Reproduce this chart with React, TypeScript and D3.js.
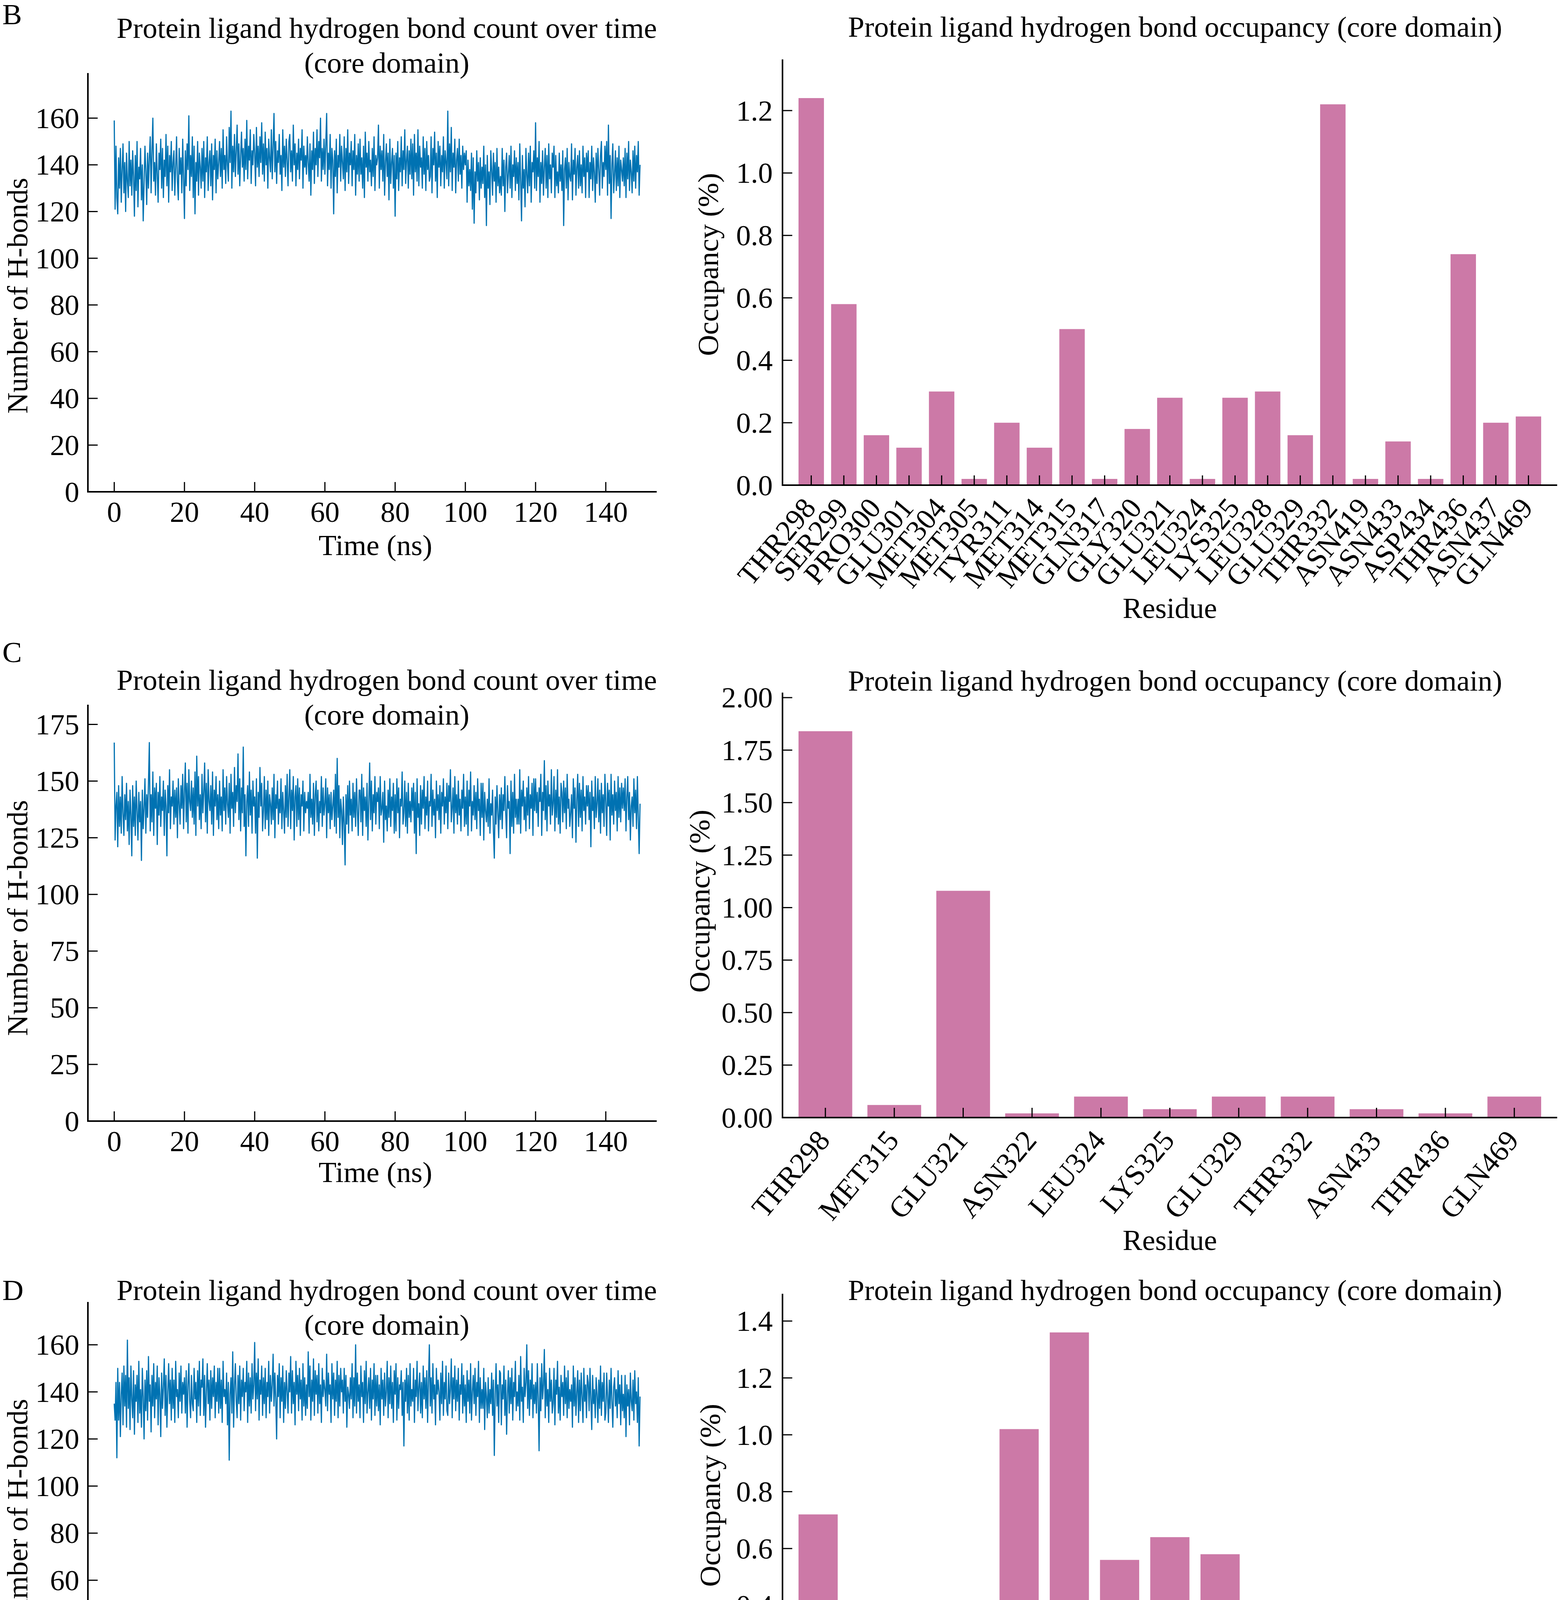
import * as d3 from "d3";

const FONT = "'Liberation Serif', 'Times New Roman', serif";
const LINE_COLOR = "#0072b2";
const BAR_COLOR = "#cc79a7";
const FS = 75;

// time axis: one frame every 0.25 ns
const TIME_STEP = 0.25;
const timeTicks = [0, 20, 40, 60, 80, 100, 120, 140];

// hydrogen bond counts (one row = 2.5 ns)
const hbondsB = [
  159, 121, 148, 126, 119, 143, 130, 147, 124, 138,
  149, 128, 141, 120, 145, 133, 126, 150, 131, 142,
  127, 146, 135, 118, 144, 129, 150, 122, 139, 134,
  147, 125, 140, 116, 132, 148, 137, 123, 145, 130,
  143, 152, 128, 146, 160, 133, 141, 127, 149, 136,
  124, 145, 138, 151, 130, 147, 126, 142, 135, 153,
  131, 148, 124, 144, 137, 150, 129, 141, 146, 127,
  139, 152, 133, 125, 147, 136, 143, 128, 151, 134,
  117, 146, 131, 149, 138, 161, 129, 144, 135, 152,
  126, 148, 119, 141, 133, 150, 127, 145, 139, 130,
  147, 133, 150, 126, 143, 137, 152, 129, 141, 146,
  131, 149, 125, 144, 138, 151, 128, 146, 134, 141,
  150, 135, 147, 130, 155, 138, 144, 132, 152, 140,
  133, 156, 141, 163, 130, 148, 137, 153, 135, 146,
  157, 136, 149, 131, 144, 154, 139, 147, 133, 151,
  138, 159, 134, 148, 142, 155, 132, 146, 140, 153,
  145, 131, 156, 139, 148, 135, 152, 141, 158, 136,
  149, 133, 154, 140, 147, 130, 151, 143, 137, 155,
  134, 148, 162, 137, 150, 132, 146, 141, 153, 136,
  144, 129, 155, 139, 148, 135, 151, 142, 131, 150,
  153, 137, 146, 133, 157, 140, 149, 131, 145, 138,
  151, 134, 147, 142, 155, 130, 148, 139, 144, 136,
  152, 141, 133, 149, 127, 146, 138, 154, 132, 147,
  140, 155, 135, 150, 143, 160, 133, 147, 138, 151,
  136, 149, 162, 131, 145, 138, 153, 130, 147, 142,
  119, 146, 135, 151, 128, 144, 139, 153, 133, 148,
  141, 134, 152, 129, 147, 137, 155, 132, 145, 140,
  150, 131, 146, 138, 153, 127, 144, 136, 149, 133,
  151, 136, 143, 130, 148, 126, 154, 139, 145, 133,
  150, 137, 142, 131, 147, 135, 152, 129, 144, 140,
  143, 157, 130, 148, 138, 146, 133, 153, 127, 141,
  149, 135, 145, 125, 151, 132, 141, 147, 130, 144,
  118, 145, 134, 150, 129, 143, 137, 152, 131, 146,
  138, 155, 132, 142, 148, 130, 146, 136, 151, 134,
  149, 127, 153, 137, 145, 133, 155, 131, 148, 139,
  143, 130, 152, 136, 147, 129, 150, 138, 144, 133,
  135, 152, 128, 147, 140, 154, 133, 145, 126, 150,
  139, 148, 131, 144, 137, 152, 130, 146, 141, 134,
  163, 131, 149, 137, 156, 129, 145, 139, 151, 128,
  142, 147, 133, 151, 136, 144, 130, 148, 138, 145,
  140, 146, 124, 142, 131, 138, 129, 145, 121, 143,
  115, 137, 128, 146, 133, 141, 125, 143, 130, 139,
  132, 148, 126, 140, 114, 144, 130, 137, 123, 146,
  138, 127, 145, 133, 141, 124, 147, 131, 139, 128,
  135, 127, 147, 131, 142, 120, 139, 145, 128, 136,
  144, 130, 148, 126, 140, 135, 146, 129, 143, 132,
  141, 125, 149, 133, 116, 144, 130, 138, 122, 147,
  136, 128, 145, 131, 148, 124, 141, 137, 146, 130,
  158, 129, 143, 135, 150, 124, 141, 132, 146, 127,
  139, 147, 130, 144, 126, 149, 134, 140, 128, 145,
  139, 148, 126, 144, 131, 137, 128, 145, 133, 140,
  129, 146, 114, 138, 143, 130, 147, 125, 141, 135,
  133, 149, 125, 142, 136, 147, 127, 139, 144, 130,
  146, 131, 140, 128, 148, 135, 143, 126, 145, 137,
  146, 126, 141, 134, 148, 129, 143, 137, 124, 145,
  132, 147, 138, 127, 144, 150, 130, 141, 135, 148,
  138, 150, 127, 157, 132, 144, 117, 140, 149, 128,
  136, 146, 129, 143, 131, 148, 126, 142, 138, 133,
  143, 131, 147, 126, 145, 134, 150, 129, 142, 137,
  128, 146, 133, 148, 130, 144, 137, 150, 127, 140,
];

const hbondsC = [
  167, 124, 139, 145, 121, 148, 130, 143, 127, 152,
  136, 126, 144, 133, 149, 128, 141, 122, 146, 135,
  117, 148, 130, 143, 126, 150, 137, 124, 145, 132,
  141, 115, 146, 129, 138, 151, 127, 144, 134, 149,
  167, 128, 144, 132, 154, 126, 147, 138, 149, 122,
  145, 135, 152, 130, 143, 137, 150, 126, 146, 139,
  117, 148, 136, 155, 129, 143, 139, 150, 131, 146,
  134, 147, 125, 151, 140, 131, 148, 138, 153, 129,
  145, 158, 132, 149, 127, 155, 141, 137, 150, 134,
  147, 131, 154, 126, 161, 139, 152, 133, 144, 129,
  153, 136, 145, 158, 132, 149, 127, 155, 141, 137,
  148, 131, 154, 126, 146, 139, 152, 133, 144, 129,
  150, 135, 143, 128, 155, 137, 147, 131, 152, 140,
  134, 149, 127, 153, 138, 145, 130, 156, 136, 148,
  141, 162, 133, 151, 128, 147, 136, 165, 130, 144,
  117, 141, 148, 130, 154, 135, 146, 127, 150, 139,
  143, 127, 151, 116, 145, 134, 156, 139, 149, 128,
  137, 152, 129, 146, 133, 150, 126, 144, 140, 131,
  147, 133, 153, 125, 144, 138, 150, 131, 142, 136,
  151, 129, 145, 137, 127, 148, 134, 153, 130, 143,
  155, 129, 146, 137, 152, 124, 143, 148, 130, 151,
  133, 147, 126, 144, 139, 150, 128, 145, 136, 141,
  138, 145, 127, 153, 134, 142, 131, 149, 126, 144,
  150, 132, 146, 128, 141, 136, 152, 130, 147, 135,
  140, 151, 125, 147, 136, 144, 129, 145, 133, 139,
  146, 130, 153, 127, 160, 134, 148, 125, 142, 137,
  122, 143, 131, 113, 144, 131, 148, 127, 150, 135,
  142, 128, 149, 134, 145, 130, 151, 137, 126, 146,
  146, 132, 153, 126, 147, 137, 143, 130, 149, 124,
  141, 158, 133, 150, 128, 144, 136, 152, 131, 145,
  141, 147, 129, 152, 135, 138, 145, 123, 150, 133,
  139, 128, 146, 134, 151, 130, 143, 137, 149, 127,
  144, 128, 151, 136, 147, 125, 142, 139, 154, 131,
  136, 150, 130, 145, 127, 149, 134, 141, 132, 147,
  137, 149, 127, 145, 118, 151, 134, 140, 126, 148,
  131, 146, 138, 152, 129, 143, 135, 150, 128, 141,
  139, 153, 130, 146, 135, 142, 125, 150, 137, 144,
  133, 148, 127, 145, 139, 151, 131, 143, 136, 149,
  129, 148, 141, 155, 132, 138, 147, 127, 152, 136,
  144, 131, 150, 135, 142, 128, 146, 138, 153, 130,
  143, 131, 150, 126, 146, 139, 154, 128, 141, 135,
  148, 133, 145, 129, 151, 137, 142, 126, 149, 134,
  149, 124, 145, 137, 132, 142, 130, 151, 127, 140,
  135, 146, 128, 116, 143, 131, 148, 136, 125, 144,
  133, 147, 129, 144, 137, 152, 136, 125, 148, 138,
  141, 118, 150, 130, 145, 127, 153, 134, 142, 131,
  142, 131, 155, 127, 146, 139, 150, 133, 143, 128,
  147, 135, 152, 129, 144, 138, 149, 126, 151, 137,
  151, 136, 145, 130, 147, 141, 153, 126, 145, 137,
  159, 133, 148, 128, 150, 139, 144, 131, 155, 135,
  140, 152, 128, 146, 134, 155, 131, 143, 127, 149,
  145, 132, 150, 136, 147, 129, 153, 138, 142, 130,
  136, 144, 125, 151, 138, 147, 123, 142, 153, 130,
  149, 134, 146, 128, 152, 137, 143, 131, 148, 139,
  148, 133, 145, 121, 150, 137, 143, 129, 152, 134,
  140, 151, 132, 146, 127, 149, 136, 144, 130, 153,
  141, 126, 149, 139, 146, 124, 153, 135, 144, 131,
  150, 137, 145, 128, 152, 134, 147, 132, 149, 138,
  147, 137, 151, 128, 143, 152, 133, 145, 124, 139,
  143, 130, 151, 136, 146, 129, 152, 134, 118, 140,
];

const hbondsD = [
  135, 128, 144, 112, 150, 128, 144, 121, 139, 148,
  126, 151, 134, 147, 125, 162, 133, 146, 124, 151,
  137, 129, 149, 122, 143, 136, 147, 127, 153, 131,
  141, 125, 150, 138, 120, 145, 132, 149, 128, 155,
  136, 143, 123, 147, 134, 152, 129, 144, 137, 151,
  126, 146, 139, 121, 148, 133, 142, 154, 130, 147,
  125, 140, 152, 135, 145, 128, 150, 133, 145, 127,
  153, 138, 141, 129, 148, 136, 151, 131, 144, 139,
  146, 131, 149, 125, 143, 152, 136, 129, 147, 135,
  132, 150, 137, 144, 127, 149, 134, 153, 130, 145,
  142, 154, 130, 147, 125, 140, 152, 135, 145, 128,
  149, 133, 146, 138, 151, 129, 144, 136, 150, 131,
  150, 133, 145, 127, 153, 138, 141, 135, 148, 126,
  144, 111, 139, 146, 131, 157, 125, 143, 152, 136,
  129, 147, 135, 151, 128, 145, 138, 150, 132, 144,
  140, 153, 127, 148, 134, 146, 131, 152, 137, 143,
  161, 132, 148, 137, 154, 128, 145, 139, 151, 130,
  146, 135, 150, 129, 144, 138, 153, 131, 147, 136,
  143, 156, 134, 148, 137, 120, 147, 138, 152, 129,
  146, 136, 151, 127, 144, 133, 149, 140, 131, 148,
  140, 155, 131, 149, 135, 144, 126, 153, 139, 147,
  132, 150, 137, 145, 128, 152, 134, 146, 130, 143,
  133, 157, 138, 151, 128, 145, 136, 154, 130, 149,
  139, 147, 131, 152, 135, 143, 127, 150, 138, 145,
  141, 134, 156, 132, 148, 139, 143, 127, 152, 137,
  148, 130, 145, 136, 153, 129, 147, 134, 150, 140,
  145, 131, 150, 136, 147, 125, 142, 139, 133, 146,
  137, 152, 129, 146, 134, 160, 131, 148, 136, 143,
  129, 151, 138, 144, 127, 149, 135, 153, 131, 140,
  146, 133, 150, 128, 145, 137, 152, 130, 147, 134,
  147, 132, 143, 126, 150, 137, 145, 130, 148, 134,
  140, 153, 129, 146, 135, 151, 133, 144, 127, 149,
  139, 152, 128, 146, 133, 143, 141, 149, 130, 144,
  117, 145, 136, 150, 131, 147, 128, 152, 134, 141,
  136, 150, 127, 145, 138, 153, 132, 142, 148, 131,
  144, 129, 151, 137, 146, 133, 149, 127, 145, 160,
  134, 146, 131, 152, 137, 143, 126, 150, 139, 145,
  140, 128, 148, 135, 153, 130, 144, 137, 151, 132,
  130, 148, 135, 141, 154, 129, 146, 137, 151, 132,
  145, 136, 150, 128, 143, 139, 152, 131, 147, 134,
  143, 127, 149, 136, 145, 131, 152, 128, 140, 147,
  135, 150, 130, 144, 138, 153, 127, 146, 133, 141,
  133, 150, 124, 144, 138, 129, 146, 131, 141, 135,
  148, 130, 145, 113, 139, 152, 134, 143, 127, 149,
  148, 126, 143, 137, 151, 130, 145, 122, 139, 149,
  131, 146, 135, 150, 128, 144, 138, 153, 132, 140,
  134, 147, 128, 155, 136, 142, 127, 150, 138, 144,
  160, 133, 149, 130, 145, 137, 152, 129, 143, 135,
  144, 131, 152, 137, 115, 146, 132, 152, 137, 143,
  158, 129, 148, 134, 141, 127, 150, 136, 145, 131,
  135, 150, 126, 145, 139, 153, 131, 142, 128, 147,
  138, 144, 130, 151, 135, 146, 129, 149, 133, 141,
  136, 143, 125, 151, 134, 146, 130, 140, 149, 127,
  145, 132, 148, 138, 127, 150, 136, 143, 129, 147,
  144, 132, 150, 137, 124, 147, 135, 141, 129, 146,
  139, 127, 145, 133, 151, 130, 144, 136, 148, 128,
  131, 148, 138, 127, 145, 133, 150, 136, 125, 142,
  146, 134, 141, 129, 149, 135, 143, 126, 147, 132,
  139, 129, 147, 121, 143, 134, 141, 126, 148, 136,
  132, 145, 128, 149, 135, 140, 127, 146, 117, 138,
];

const hbondTicksB = [0, 20, 40, 60, 80, 100, 120, 140, 160];
const hbondTicksC = [0, 25, 50, 75, 100, 125, 150, 175];
const hbondTicksD = [0, 20, 40, 60, 80, 100, 120, 140, 160];

// occupancy per residue
const residuesB = [
  "THR298", "SER299", "PRO300", "GLU301", "MET304", "MET305", "TYR311", "MET314", "MET315", "GLN317",
  "GLY320", "GLU321", "LEU324", "LYS325", "LEU328", "GLU329", "THR332", "ASN419", "ASN433", "ASP434",
  "THR436", "ASN437", "GLN469",
];
const occupancyB = [
  1.24, 0.58, 0.16, 0.12, 0.3, 0.02, 0.2, 0.12, 0.5, 0.02, 0.18, 0.28, 0.02, 0.28, 0.3, 0.16, 1.22,
  0.02, 0.14, 0.02, 0.74, 0.2, 0.22,
];
const occTicksB = [0, 0.2, 0.4, 0.6, 0.8, 1.0, 1.2];

const residuesC = [
  "THR298", "MET315", "GLU321", "ASN322", "LEU324", "LYS325", "GLU329", "THR332", "ASN433", "THR436", "GLN469",
];
const occupancyC = [1.84, 0.06, 1.08, 0.02, 0.1, 0.04, 0.1, 0.1, 0.04, 0.02, 0.1];
const occTicksC = [0, 0.25, 0.5, 0.75, 1.0, 1.25, 1.5, 1.75, 2.0];

const residuesD = [
  "THR298", "SER299", "GLU301", "MET315", "GLU321", "LYS325", "LEU328", "GLU329", "THR332", "GLY418",
  "ASN419", "VAL420", "THR436", "GLN469", "LYS470",
];
const occupancyD = [0.72, 0.02, 0.04, 0.04, 1.02, 1.36, 0.56, 0.64, 0.58, 0.02, 0.02, 0.1, 0.06, 0.02, 0.02];
const occTicksD = [0, 0.2, 0.4, 0.6, 0.8, 1.0, 1.2, 1.4];

const LINE_X0 = 225;
const LINE_X1 = 1681;
const BAR_X0 = 2003;
const BAR_X1 = 3986;
const TICK = 25;

type LineProps = {
  data: number[];
  ticks: number[];
  top: number;
  bottom: number;
  titleY: [number, number];
  xLabelY: number;
  yLabelY: number;
};

function LineChart({ data, ticks, top, bottom, titleY, xLabelY, yLabelY }: LineProps) {
  const x = d3.scaleLinear().domain([-7.5, 154.5]).range([LINE_X0, LINE_X1]);
  const y = d3.scaleLinear().domain([0, (d3.max(data) ?? 0) * 1.1]).range([bottom, top]);
  const line = d3
    .line<number>()
    .x((_, i) => x(i * TIME_STEP))
    .y((d) => y(d));

  return (
    <g>
      <text x={990} y={titleY[0]} textAnchor="middle">Protein ligand hydrogen bond count over time</text>
      <text x={990} y={titleY[1]} textAnchor="middle">(core domain)</text>
      <path d={line(data) ?? ""} fill="none" stroke={LINE_COLOR} strokeWidth={3} strokeLinejoin="round" />
      <line x1={LINE_X0} x2={LINE_X0} y1={top} y2={bottom} stroke="#000" strokeWidth={4} />
      <line x1={LINE_X0 - 2} x2={LINE_X1} y1={bottom} y2={bottom} stroke="#000" strokeWidth={4} />
      {timeTicks.map((t) => (
        <g key={t}>
          <line x1={x(t)} x2={x(t)} y1={bottom} y2={bottom - TICK} stroke="#000" strokeWidth={3} />
          <text x={x(t)} y={bottom + 77} textAnchor="middle">{t}</text>
        </g>
      ))}
      {ticks.map((v) => (
        <g key={v}>
          <line x1={LINE_X0} x2={LINE_X0 + TICK} y1={y(v)} y2={y(v)} stroke="#000" strokeWidth={3} />
          <text x={LINE_X0 - 22} y={y(v)} dy="0.34em" textAnchor="end">{v}</text>
        </g>
      ))}
      <text x={(LINE_X0 + LINE_X1) / 2 + 8} y={xLabelY} textAnchor="middle">Time (ns)</text>
      <text transform={`translate(70,${yLabelY}) rotate(-90)`} textAnchor="middle">Number of H-bonds</text>
    </g>
  );
}

type BarProps = {
  residues: string[];
  values: number[];
  ticks: number[];
  tickFormat: string;
  top: number;
  bottom: number;
  titleY: number;
  xLabelY: number;
  yLabelX: number;
  yLabelY: number;
};

function BarChart({ residues, values, ticks, tickFormat, top, bottom, titleY, xLabelY, yLabelX, yLabelY }: BarProps) {
  const x = d3.scaleBand<string>().domain(residues).range([BAR_X0 + 41, BAR_X1 - 41]).paddingInner(0.22).paddingOuter(0);
  const y = d3.scaleLinear().domain([0, (d3.max(values) ?? 0) * 1.1]).range([bottom, top]);
  const fmt = d3.format(tickFormat);
  const bw = x.bandwidth();

  return (
    <g>
      <text x={3008} y={titleY} textAnchor="middle">Protein ligand hydrogen bond occupancy (core domain)</text>
      {residues.map((r, i) => (
        <rect key={r} x={x(r)} y={y(values[i])} width={bw} height={bottom - y(values[i])} fill={BAR_COLOR} />
      ))}
      <line x1={BAR_X0} x2={BAR_X0} y1={top} y2={bottom} stroke="#000" strokeWidth={4} />
      <line x1={BAR_X0 - 2} x2={BAR_X1} y1={bottom} y2={bottom} stroke="#000" strokeWidth={4} />
      {residues.map((r) => {
        const cx = (x(r) ?? 0) + bw / 2;
        return (
          <g key={r}>
            <line x1={cx} x2={cx} y1={bottom} y2={bottom - TICK} stroke="#000" strokeWidth={3} />
            <text transform={`translate(${cx + 15},${bottom + 60}) rotate(-50)`} textAnchor="end">{r}</text>
          </g>
        );
      })}
      {ticks.map((v) => (
        <g key={v}>
          <line x1={BAR_X0} x2={BAR_X0 + TICK} y1={y(v)} y2={y(v)} stroke="#000" strokeWidth={3} />
          <text x={BAR_X0 - 25} y={y(v)} dy="0.34em" textAnchor="end">{fmt(v)}</text>
        </g>
      ))}
      <text x={(BAR_X0 + BAR_X1) / 2} y={xLabelY} textAnchor="middle">Residue</text>
      <text transform={`translate(${yLabelX + 25},${yLabelY}) rotate(-90)`} textAnchor="middle">Occupancy (%)</text>
    </g>
  );
}

export default function App() {
  return (
    <>
      <style>{`body{margin:0}`}</style>
      <svg width={4006} height={4769} style={{ display: "block", background: "#fff" }} fontFamily={FONT} fontSize={FS} fill="#000">
        <rect width={4006} height={4769} fill="#fff" />
        <text x={6} y={62}>B</text>
        <LineChart data={hbondsB} ticks={hbondTicksB} top={187} bottom={1259} titleY={[97, 186]} xLabelY={1421} yLabelY={757} />
        <BarChart residues={residuesB} values={occupancyB} ticks={occTicksB} tickFormat=".1f" top={152} bottom={1242} titleY={94} xLabelY={1582} yLabelX={1813} yLabelY={677} />

        <text x={6} y={1695}>C</text>
        <LineChart data={hbondsC} ticks={hbondTicksC} top={1804} bottom={2870} titleY={[1766, 1855]} xLabelY={3026} yLabelY={2350} />
        <BarChart residues={residuesC} values={occupancyC} ticks={occTicksC} tickFormat=".2f" top={1773} bottom={2861} titleY={1768} xLabelY={3200} yLabelX={1791} yLabelY={2307} />

        <text x={6} y={3328}>D</text>
        <LineChart data={hbondsD} ticks={hbondTicksD} top={3333} bottom={4407} titleY={[3328, 3417]} xLabelY={4563} yLabelY={3883} />
        <BarChart residues={residuesD} values={occupancyD} ticks={occTicksD} tickFormat=".1f" top={3312} bottom={4401} titleY={3328} xLabelY={4740} yLabelX={1818} yLabelY={3828} />
      </svg>
    </>
  );
}
